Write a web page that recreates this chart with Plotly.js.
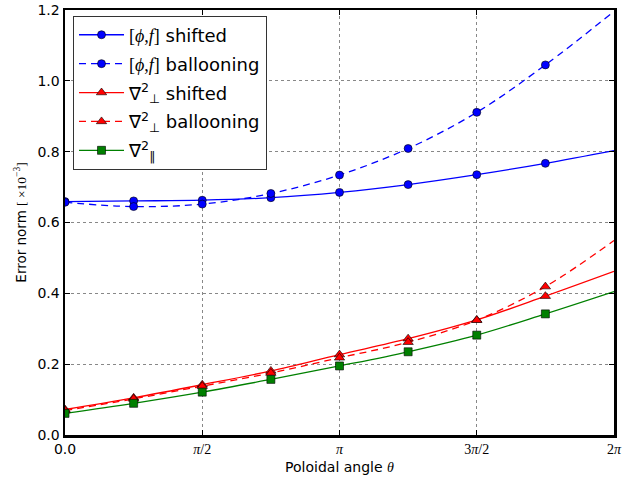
<!DOCTYPE html>
<html>
<head>
<meta charset="utf-8">
<script src="https://cdn.plot.ly/plotly-3.0.1.min.js"></script>
<style>html,body{margin:0;padding:0;background:#fff;}</style>
</head>
<body>
<div id="chart" style="width:641px;height:482px;"></div>
<script>
// Poloidal angle in units of pi/4
const angleQuarterPi = [0, 1, 2, 3, 4, 5, 6, 7, 8];
// Error norm values (x1e-3)
const phiShifted     = [0.659, 0.661, 0.663, 0.670, 0.685, 0.707, 0.735, 0.767, 0.803];
const phiBallooning  = [0.657, 0.645, 0.652, 0.682, 0.734, 0.809, 0.911, 1.045, 1.196];
const perpShifted    = [0.072, 0.105, 0.142, 0.181, 0.227, 0.272, 0.325, 0.392, 0.462];
const perpBallooning = [0.069, 0.102, 0.138, 0.175, 0.218, 0.262, 0.324, 0.419, 0.549];
const parLaplacian   = [0.061, 0.0895, 0.121, 0.157, 0.195, 0.235, 0.282, 0.342, 0.405];
// number of marked samples (last point is line end only)
const markedCount = 8;

const xTickVals = [0, 1, 2, 3, 4];  // in units of pi/2
const xTickText = ['0.0',
  '<span style="font-family:\'Liberation Serif\'"><i>π</i>/2</span>',
  '<span style="font-family:\'Liberation Serif\'"><i>π</i></span>',
  '<span style="font-family:\'Liberation Serif\'">3<i>π</i>/2</span>',
  '<span style="font-family:\'Liberation Serif\'">2<i>π</i></span>'];
const yTickVals = [0, 0.2, 0.4, 0.6, 0.8, 1.0, 1.2];

const series = [
  {name: '<span style="font-family:\'Liberation Serif\'">[<i>ϕ</i>,<i>f</i>]</span> shifted', y: phiShifted, color: '#0000ff', dash: 'solid', symbol: 'circle'},
  {name: '<span style="font-family:\'Liberation Serif\'">[<i>ϕ</i>,<i>f</i>]</span> ballooning', y: phiBallooning, color: '#0000ff', dash: '7px,5px', symbol: 'circle'},
  {name: '∇<sup>2</sup><sub>⊥</sub> shifted', y: perpShifted, color: '#ff0000', dash: 'solid', symbol: 'triangle-up'},
  {name: '∇<sup>2</sup><sub>⊥</sub> ballooning', y: perpBallooning, color: '#ff0000', dash: '7px,5px', symbol: 'triangle-up'},
  {name: '∇<sup>2</sup><sub>∥</sub>', y: parLaplacian, color: '#008000', dash: 'solid', symbol: 'square'}
];

const theta = angleQuarterPi.map(k => k * Math.PI / 4);
const traces = [];
const mk = (s) => ({symbol: s.symbol, size: s.symbol === 'triangle-up' ? 9 : 8, color: s.color, line: {color: '#000', width: 0.6}});

series.forEach((s, i) => {
  traces.push({x: theta, y: s.y, mode: 'lines', line: {color: s.color, width: 1.3, dash: s.dash, shape: 'spline', smoothing: 1}, showlegend: false, hoverinfo: 'skip'});
});
series.forEach((s, i) => {
  traces.push({x: theta.slice(0, markedCount), y: s.y.slice(0, markedCount), mode: 'markers', marker: mk(s), showlegend: false});
});
series.forEach((s, i) => {
  traces.push({x: [null], y: [null], mode: 'lines+markers', name: s.name, legendgroup: 'g' + i,
    line: {color: s.color, width: 1.3, dash: s.dash}, marker: mk(s), showlegend: true});
});

const layout = {
  width: 641, height: 482,
  margin: {l: 65, r: 27, t: 10, b: 47},
  paper_bgcolor: '#fff', plot_bgcolor: '#fff',
  font: {family: 'DejaVu Sans', size: 14, color: '#000'},
  showlegend: true,
  legend: {x: 0.0146, y: 0.987, xanchor: 'left', yanchor: 'top', bgcolor: '#fff', bordercolor: '#333', borderwidth: 1,
    font: {family: 'DejaVu Sans', size: 18, color: '#000'}, traceorder: 'grouped', tracegroupgap: 2.5, itemwidth: 45},
  xaxis: {
    range: [0, 2 * Math.PI],
    tickvals: xTickVals.map(v => v * Math.PI / 2), ticktext: xTickText,
    ticks: 'inside', ticklen: 5, tickcolor: '#000', tickwidth: 1, mirror: 'allticks',
    showline: true, linecolor: '#000', linewidth: 2.5,
    showgrid: true, gridcolor: '#888', griddash: 'dot', gridwidth: 1, zeroline: false,
    tickfont: {size: 14},
    title: {text: 'Poloidal angle <span style="font-family:\'Liberation Serif\'"><i>θ</i></span>', font: {size: 14}, standoff: 6}
  },
  yaxis: {
    range: [0, 1.2],
    tickvals: yTickVals, tickformat: '.1f',
    ticks: 'inside', ticklen: 5, tickcolor: '#000', tickwidth: 1, mirror: 'allticks',
    showline: true, linecolor: '#000', linewidth: 2.5,
    showgrid: true, gridcolor: '#888', griddash: 'dot', gridwidth: 1, zeroline: false,
    tickfont: {size: 14},
    title: {text: 'Error norm <span style="font-family:\'Liberation Serif\'">[ ×10<sup>−3</sup>]</span>', font: {size: 13.5}, standoff: 8}
  }
};

Plotly.newPlot('chart', traces, layout, {displayModeBar: false, staticPlot: true});
</script>
</body>
</html>
